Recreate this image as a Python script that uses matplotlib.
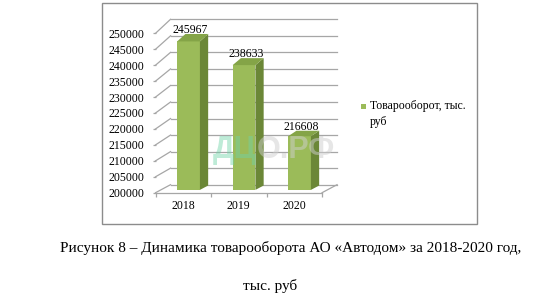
import matplotlib
matplotlib.use("Agg")
import matplotlib.pyplot as plt
from matplotlib.patches import Polygon, Rectangle
import numpy as np

plt.rcParams['font.family'] = ['Liberation Serif', 'DejaVu Serif']

# ---- data ----
years = ["2018", "2019", "2020"]
values = [245967, 238633, 216608]
y_ticks = list(range(200000, 250001, 5000))
legend_line1 = "Товарооборот, тыс."
legend_line2 = "руб"
caption_line1 = "Рисунок 8 – Динамика товарооборота АО «Автодом» за 2018-2020 год,"
caption_line2 = "тыс. руб"
watermark_a = "ДЦ"
watermark_b = "О.РФ"

W, H = 549, 302
fig = plt.figure(figsize=(W / 100, H / 100), dpi=100)

# outer chart frame
fig.patches.append(Rectangle((102 / W, 1 - 224 / H), (477 - 102) / W, (224 - 3) / H,
                             transform=fig.transFigure, fill=False,
                             edgecolor='#8c8c8c', lw=1.0))

ax = fig.add_axes([127.8 / W, 0.3197, 249.75 / W, 0.6387])
ax.set_xlim(-1, 3.5)
ax.set_ylim(196000, 256500)
ax.patch.set_visible(False)

BASE = 200000
PXV = 0.003188          # pixels per value unit
DXB = 0.27              # depth offset in x units (back wall)


def dv(v):
    return (8 + 6 * (v - BASE) / 50000) / PXV


def P(x, v, d):
    return (x + d * DXB, v + d * dv(v))


grid_c = '#a6a6a6'
# back wall gridlines + left wall diagonals
for v in y_ticks:
    x0, y0 = P(-0.5, v, 1)
    x1, y1 = P(2.5, v, 1)
    ax.plot([x0, x1], [y0, y1], color=grid_c, lw=0.9, zorder=1)
    a0, b0 = P(-0.5, v, 0)
    ax.plot([a0, x0], [b0, y0], color=grid_c, lw=0.9, zorder=1)
# floor right edge
fx0, fy0 = P(2.5, BASE, 0)
fx1, fy1 = P(2.5, BASE, 1)
ax.plot([fx0, fx1], [fy0, fy1], color=grid_c, lw=0.9, zorder=1)

# bars
d0, d1 = 0.35, 0.90
bw = 0.41
front_c = '#9BBB59'
side_c = '#6B8737'
top_c = '#84A447'
for i, v in enumerate(values):
    xl = i - bw / 2 + d0 * DXB
    bottom = BASE + d0 * dv(BASE)
    top = v + d0 * dv(v)
    ax.bar(xl, top - bottom, width=bw, bottom=bottom, align='edge',
           color=front_c, edgecolor='none', zorder=3)
    side = [P(i + bw / 2, v, d0), P(i + bw / 2, v, d1),
            P(i + bw / 2, BASE, d1), P(i + bw / 2, BASE, d0)]
    ax.add_patch(Polygon(side, closed=True, facecolor=side_c, edgecolor='none', zorder=3))
    topf = [P(i - bw / 2, v, d0), P(i + bw / 2, v, d0),
            P(i + bw / 2, v, d1), P(i - bw / 2, v, d1)]
    ax.add_patch(Polygon(topf, closed=True, facecolor=top_c, edgecolor='none', zorder=3))
    lx, ly = P(i, v, d1)
    ax.annotate(str(v), (i + d0 * DXB + 0.03, ly), xytext=(0, -1.5), textcoords='offset points',
                ha='center', va='bottom', fontsize=8.5, zorder=5)

# axes styling
for s in ['top', 'right', 'left']:
    ax.spines[s].set_visible(False)
ax.spines['left'].set_position(('data', -0.5))
ax.spines['bottom'].set_position(('data', BASE))
ax.spines['bottom'].set_bounds(-0.5, 2.5)
ax.spines['bottom'].set_color(grid_c)
ax.spines['bottom'].set_linewidth(0.9)

ax.set_yticks(y_ticks)
ax.set_yticklabels([str(t) for t in y_ticks])
ax.tick_params(axis='y', length=2.5, width=0.9, color=grid_c, pad=5.5, labelsize=8.5)

ax.set_xticks(range(len(years)))
ax.set_xticklabels(years)
ax.set_xticks([-0.5, 0.5, 1.5, 2.5], minor=True)
ax.tick_params(axis='x', which='major', length=0, pad=5, labelsize=8.5)
ax.tick_params(axis='x', which='minor', length=3, width=0.9, color=grid_c)

# watermark
wa = fig.text(213 / W, 1 - 150 / H, watermark_a, fontsize=22, fontweight='bold',
              family='Liberation Sans', color='#6fd3a8', alpha=0.45,
              ha='left', va='center', zorder=10)
fig.canvas.draw()
ext = wa.get_window_extent(renderer=fig.canvas.get_renderer())
fig.text(ext.x1 / W, 1 - 150 / H, watermark_b, fontsize=22, fontweight='bold',
         family='Liberation Sans', color='#cfcfcf', alpha=0.5,
         ha='left', va='center', zorder=10)

# legend
fig.patches.append(Rectangle((361 / W, 1 - 109 / H), 5 / W, 5 / H, transform=fig.transFigure,
                             facecolor=front_c, edgecolor='none'))
fig.text(370 / W, 1 - 106 / H, legend_line1, fontsize=8.5, ha='left', va='center')
fig.text(370 / W, 1 - 122 / H, legend_line2, fontsize=8.5, ha='left', va='center')

# caption
fig.text(291 / W, 1 - 248 / H, caption_line1, fontsize=11, ha='center', va='center')
fig.text(270 / W, 1 - 286 / H, caption_line2, fontsize=11, ha='center', va='center')

fig.savefig("out.png", dpi=100)
